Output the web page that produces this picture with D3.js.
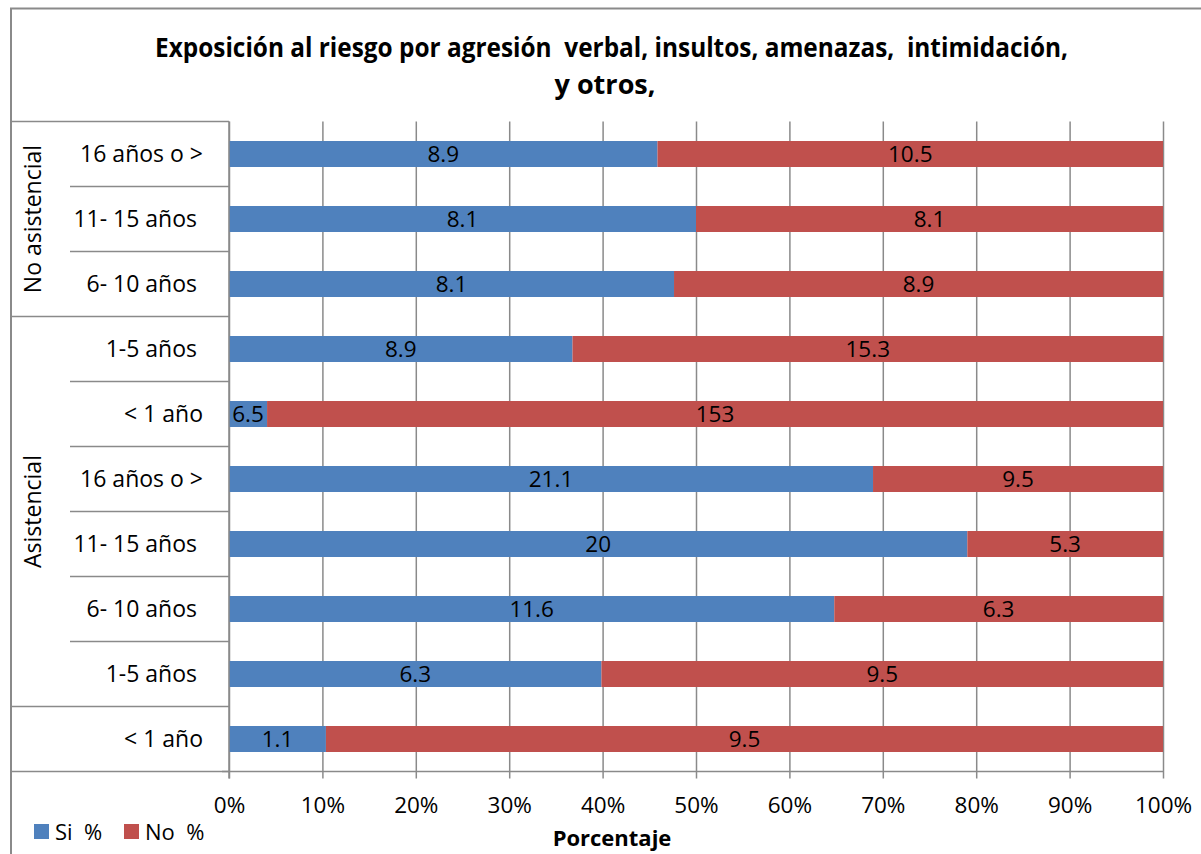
<!DOCTYPE html>
<html>
<head>
<meta charset="utf-8">
<script src="https://cdn.jsdelivr.net/npm/d3@7"></script>
<style>
  html, body { margin: 0; padding: 0; background: #fff; }
  svg { display: block; }
  text { font-family: "Open Sans", "Noto Sans", sans-serif; fill: #000; white-space: pre; }
</style>
</head>
<body>
<svg id="chart" width="1201" height="854"></svg>
<script>
// ---- data ----
const titleLines = ["Exposición al riesgo por agresión  verbal, insultos, amenazas,  intimidación,", "y otros,"];
const groups = ["No asistencial", "Asistencial", ""];
const categories = ["16 años o >", "11- 15 años ", "6- 10 años ", "1-5 años ", "< 1 año", "16 años o >", "11- 15 años ", "6- 10 años ", "1-5 años ", "< 1 año"];
const groupIndex = [0, 0, 0, 1, 1, 1, 1, 1, 1, 2];
const siValues = [8.9, 8.1, 8.1, 8.9, 6.5, 21.1, 20, 11.6, 6.3, 1.1];
const noValues = [10.5, 8.1, 8.9, 15.3, 153, 9.5, 5.3, 6.3, 9.5, 9.5];
const seriesNames = ["Si  %", "No  %"];
const seriesColors = ["#4F81BD", "#C0504D"];
const xTicks = [0, 0.1, 0.2, 0.3, 0.4, 0.5, 0.6, 0.7, 0.8, 0.9, 1];
const xAxisTitle = "Porcentaje";

// ---- layout ----
const svg = d3.select("#chart");
const gridColor = "#8a8a8a";
const plot = { left: 229, right: 1163, top: 121.5, bottom: 771.5 };

const x = d3.scaleLinear().domain([0, 1]).range([plot.left, plot.right]);
const idx = categories.map((d, i) => String(i));
const y = d3.scaleBand().domain(idx).range([plot.top, plot.bottom]).paddingInner(0.6).paddingOuter(0.3);

// outer frame
svg.append("rect").attr("x", 11).attr("y", 8.5).attr("width", 1300).attr("height", 1000)
  .attr("fill", "none").attr("stroke", gridColor).attr("stroke-width", 2);

// title
svg.append("text").attr("x", 611.5).attr("y", 57).attr("text-anchor", "middle")
  .attr("font-size", 26).attr("font-weight", "bold")
  .attr("textLength", 913).attr("lengthAdjust", "spacingAndGlyphs")
  .text(titleLines[0]);
svg.append("text").attr("x", 605).attr("y", 94).attr("text-anchor", "middle")
  .attr("font-size", 26).attr("font-weight", "bold")
  .attr("textLength", 101).attr("lengthAdjust", "spacingAndGlyphs")
  .text(titleLines[1]);

// vertical gridlines + ticks
const xAxis = d3.axisBottom(x).tickValues(xTicks).tickFormat(d3.format(".0%"))
  .tickSize(-(plot.bottom - plot.top)).tickPadding(0);
const gx = svg.append("g").attr("transform", `translate(0,${plot.bottom})`).call(xAxis);
gx.select(".domain").remove();
gx.selectAll(".tick line").attr("stroke", gridColor).attr("stroke-width", 1.5)
  .attr("y1", 7);
gx.selectAll(".tick text").attr("font-size", 22.5).attr("dy", null).attr("y", 41)
  .attr("fill", "#000").attr("font-family", "'Open Sans', sans-serif");

// x axis line
svg.append("line").attr("x1", 222).attr("x2", plot.right).attr("y1", plot.bottom).attr("y2", plot.bottom)
  .attr("stroke", gridColor).attr("stroke-width", 1.5);

// category separators
const boundaries = d3.range(categories.length + 1);
boundaries.forEach(b => {
  const yy = b === categories.length ? plot.bottom : plot.top + b * y.step();
  const isGroup = b === 0 || b === categories.length || groupIndex[b] !== groupIndex[b - 1];
  svg.append("line").attr("x1", isGroup ? 11 : 70).attr("x2", plot.left)
    .attr("y1", yy).attr("y2", yy).attr("stroke", gridColor).attr("stroke-width", 1.5);
});

// bars
const rows = categories.map((c, i) => {
  const total = siValues[i] + noValues[i];
  return { i, si: siValues[i], no: noValues[i], pSi: siValues[i] / total };
});
const barG = svg.append("g");
rows.forEach(r => {
  const segs = [
    { v: r.si, x0: 0, x1: r.pSi, s: 0 },
    { v: r.no, x0: r.pSi, x1: 1, s: 1 }
  ];
  segs.forEach(s => {
    barG.append("rect").attr("x", x(s.x0)).attr("width", x(s.x1) - x(s.x0))
      .attr("y", y(String(r.i))).attr("height", y.bandwidth())
      .attr("fill", seriesColors[s.s]);
    barG.append("text").attr("x", (x(s.x0) + x(s.x1)) / 2)
      .attr("y", y(String(r.i)) + y.bandwidth() / 2 + 8)
      .attr("text-anchor", "middle").attr("font-size", 22.5)
      .text(String(s.v));
  });
});

// y axis line
svg.append("line").attr("x1", plot.left).attr("x2", plot.left).attr("y1", plot.top).attr("y2", plot.bottom + 7)
  .attr("stroke", gridColor).attr("stroke-width", 1.5);

// category labels
categories.forEach((c, i) => {
  svg.append("text").attr("x", 203).attr("y", y(String(i)) + y.bandwidth() / 2 + 8)
    .attr("text-anchor", "end").attr("font-size", 23).text(c);
});

// group labels
groups.forEach((g, gi) => {
  const members = groupIndex.map((v, i) => v === gi ? i : -1).filter(i => i >= 0);
  const y0 = plot.top + members[0] * y.step();
  const y1 = plot.top + (members[members.length - 1] + 1) * y.step();
  const cy = (y0 + y1) / 2;
  svg.append("text").attr("transform", `translate(41,${cy}) rotate(-90)`)
    .attr("text-anchor", "middle").attr("font-size", 23).text(g);
});

// x axis title
svg.append("text").attr("x", 612).attr("y", 846).attr("text-anchor", "middle")
  .attr("font-size", 22).attr("font-weight", "bold").text(xAxisTitle);

// legend
const legendX = [34, 124];
seriesNames.forEach((n, i) => {
  svg.append("rect").attr("x", legendX[i]).attr("y", 824).attr("width", 15).attr("height", 15)
    .attr("fill", seriesColors[i]);
  svg.append("text").attr("x", legendX[i] + 21).attr("y", 840).attr("font-size", 22).text(n);
});
</script>
</body>
</html>
